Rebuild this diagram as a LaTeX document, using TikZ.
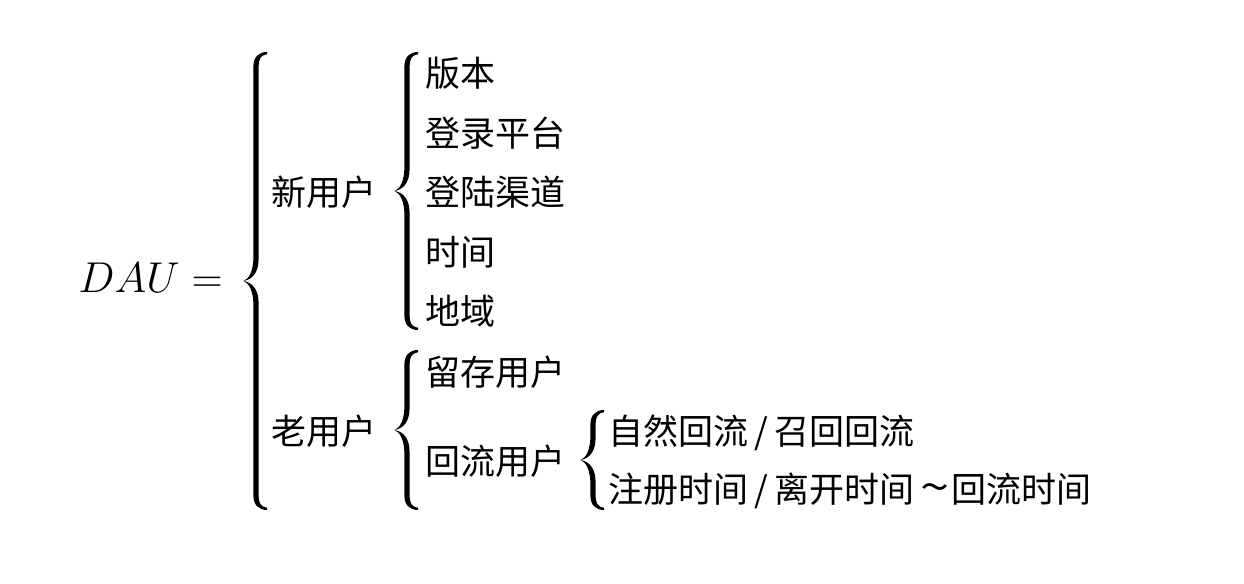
\documentclass[tikz,border=0pt]{standalone}
\usepackage{fontspec}
\newfontfamily\cjkfont{Noto Sans CJK SC}

% one unit = one pixel of the 1244 x 584 canvas, y grows downwards
\tikzset{
  x=0.5pt, y=-0.5pt,
  cjklabel/.style={anchor=west, inner sep=0pt, font=\fontsize{17.5}{21}\cjkfont},
  formula/.style={anchor=base west, inner sep=0pt, scale=1.04, font=\fontsize{20.74}{25}\selectfont},
  bracefill/.style={fill=black, draw=none}
}

% separators used inside the labels
\newcommand\sep{\kern3pt/\kern3pt}
\newcommand\till{\kern3pt\scalebox{1.5}[1.2]{\char"7E}\kern1pt}

% left curly brace as a filled outline
% #1 stroke centre x, #2 top y, #3 tip y, #4 bottom y
\newcommand\curlybrace[4]{%
  \fill[bracefill]
    ({#1+11},{#2}) .. controls ({#1+3},{#2}) and ({#1-2.6},{#2+5}) .. ({#1-2.6},{#2+14})
    -- ({#1-2.6},{#3-24})
    .. controls ({#1-2.6},{#3-10}) and ({#1-7},{#3-2}) .. ({#1-12.5},{#3})
    .. controls ({#1-7},{#3+2}) and ({#1-2.6},{#3+10}) .. ({#1-2.6},{#3+24})
    -- ({#1-2.6},{#4-14})
    .. controls ({#1-2.6},{#4-5}) and ({#1+3},{#4}) .. ({#1+11},{#4})
    -- ({#1+11},{#4-2.2})
    .. controls ({#1+5},{#4-3}) and ({#1+2.6},{#4-7}) .. ({#1+2.6},{#4-14})
    -- ({#1+2.6},{#3+22})
    .. controls ({#1+2.6},{#3+8}) and ({#1-4},{#3+1.5}) .. ({#1-12.5},{#3})
    .. controls ({#1-4},{#3-1.5}) and ({#1+2.6},{#3-8}) .. ({#1+2.6},{#3-22})
    -- ({#1+2.6},{#2+14})
    .. controls ({#1+2.6},{#2+7}) and ({#1+5},{#2+3}) .. ({#1+11},{#2+2.2})
    -- cycle;
}

\begin{document}
\begin{tikzpicture}
  \useasboundingbox[fill=white] (0,0) rectangle (1244,584);

  % left-hand side
  \node[formula] (dau) at (78,292) {$DAU =$};
  \curlybrace{256}{52}{281}{510}

  % new users
  \node[cjklabel] (new) at (271,192.5) {新用户};
  \curlybrace{407}{52}{191}{330}
  \node[cjklabel] (version)  at (425,73.5)  {版本};
  \node[cjklabel] (platform) at (425,133)   {登录平台};
  \node[cjklabel] (channel)  at (425,192.5) {登陆渠道};
  \node[cjklabel] (time)     at (425,252)   {时间};
  \node[cjklabel] (region)   at (425,311.5) {地域};

  % old users
  \node[cjklabel] (old) at (271,431) {老用户};
  \curlybrace{407}{350}{430}{510}
  \node[cjklabel] (retained) at (425,372) {留存用户};
  \node[cjklabel] (returned) at (425,461) {回流用户};

  % returning users
  \curlybrace{593}{410}{460}{510}
  \node[cjklabel] (kind) at (608,432.5) {自然回流\sep 召回回流};
  \node[cjklabel] (span) at (608,491) {注册时间\sep 离开时间\till 回流时间};
\end{tikzpicture}
\end{document}
